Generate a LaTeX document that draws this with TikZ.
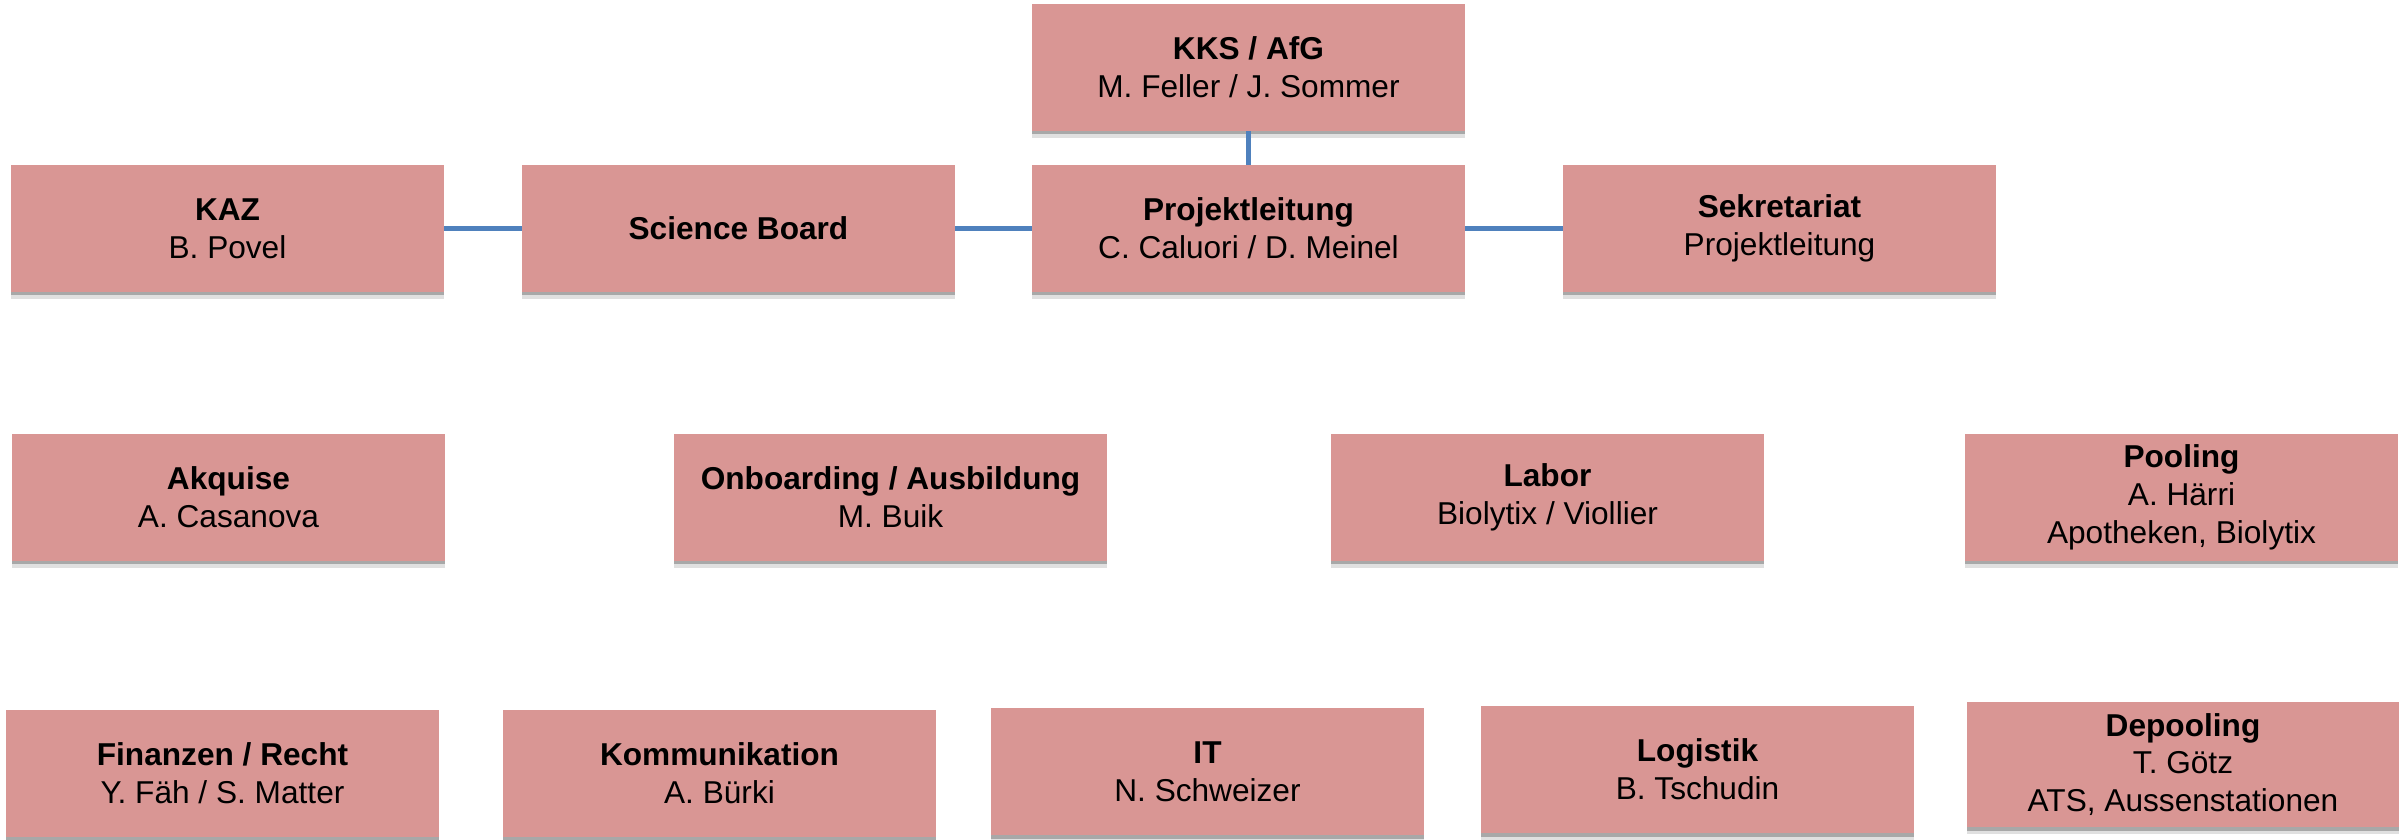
\documentclass[tikz,border=0pt]{standalone}
\usepackage{fontspec}
\setmainfont{Liberation Sans}
\usetikzlibrary{shadows}
\definecolor{boxfill}{HTML}{D99694}
\definecolor{linkblue}{HTML}{4F81BD}
\tikzset{
  orgbox/.style={rectangle, fill=boxfill, draw=none, minimum width=8.66cm, minimum height=2.54cm,
    inner sep=0pt, align=center, font=\fontsize{18}{21.5}\selectfont,
    drop shadow={shadow xshift=0pt, shadow yshift=-0.14cm, opacity=0.12, fill=black},
    drop shadow={shadow xshift=0pt, shadow yshift=-0.07cm, opacity=0.25, fill=black}},
  link/.style={draw=linkblue, line width=0.1cm}
}
\begin{document}
\begin{tikzpicture}[x=0.02cm, y=-0.02cm]
\useasboundingbox (0,0) rectangle (2407,839);
\node[orgbox] (kks) at (1248.5,67.5) {\textbf{KKS / AfG}\\M. Feller / J. Sommer};
\node[orgbox] (kaz) at (227.5,228.5) {\textbf{KAZ}\\B. Povel};
\node[orgbox] (sb) at (738.5,228.5) {\textbf{Science Board}};
\node[orgbox] (pl) at (1248.5,228.5) {\textbf{Projektleitung}\\C. Caluori / D. Meinel};
\node[orgbox] (sek) at (1779.5,228.5) {\textbf{Sekretariat}\\Projektleitung};
\node[orgbox] (akq) at (228.5,497.5) {\textbf{Akquise}\\A. Casanova};
\node[orgbox] (onb) at (890.5,497.5) {\textbf{Onboarding / Ausbildung}\\M. Buik};
\node[orgbox] (lab) at (1547.5,497.5) {\textbf{Labor}\\Biolytix / Viollier};
\node[orgbox] (poo) at (2181.5,497.5) {\textbf{Pooling}\\A. Härri\\Apotheken, Biolytix};
\node[orgbox] (fin) at (222.5,773.5) {\textbf{Finanzen / Recht}\\Y. Fäh / S. Matter};
\node[orgbox] (kom) at (719.5,773.5) {\textbf{Kommunikation}\\A. Bürki};
\node[orgbox] (it) at (1207.5,771.5) {\textbf{IT}\\N. Schweizer};
\node[orgbox] (log) at (1697.5,769.5) {\textbf{Logistik}\\B. Tschudin};
\node[orgbox, minimum height=2.5cm] (dep) at (2183,764.5) {\textbf{Depooling}\\T. Götz\\ATS, Aussenstationen};
\draw[link] (kks) -- (pl);
\draw[link] (kaz) -- (sb);
\draw[link] (sb) -- (pl);
\draw[link] (pl) -- (sek);
\end{tikzpicture}
\end{document}
